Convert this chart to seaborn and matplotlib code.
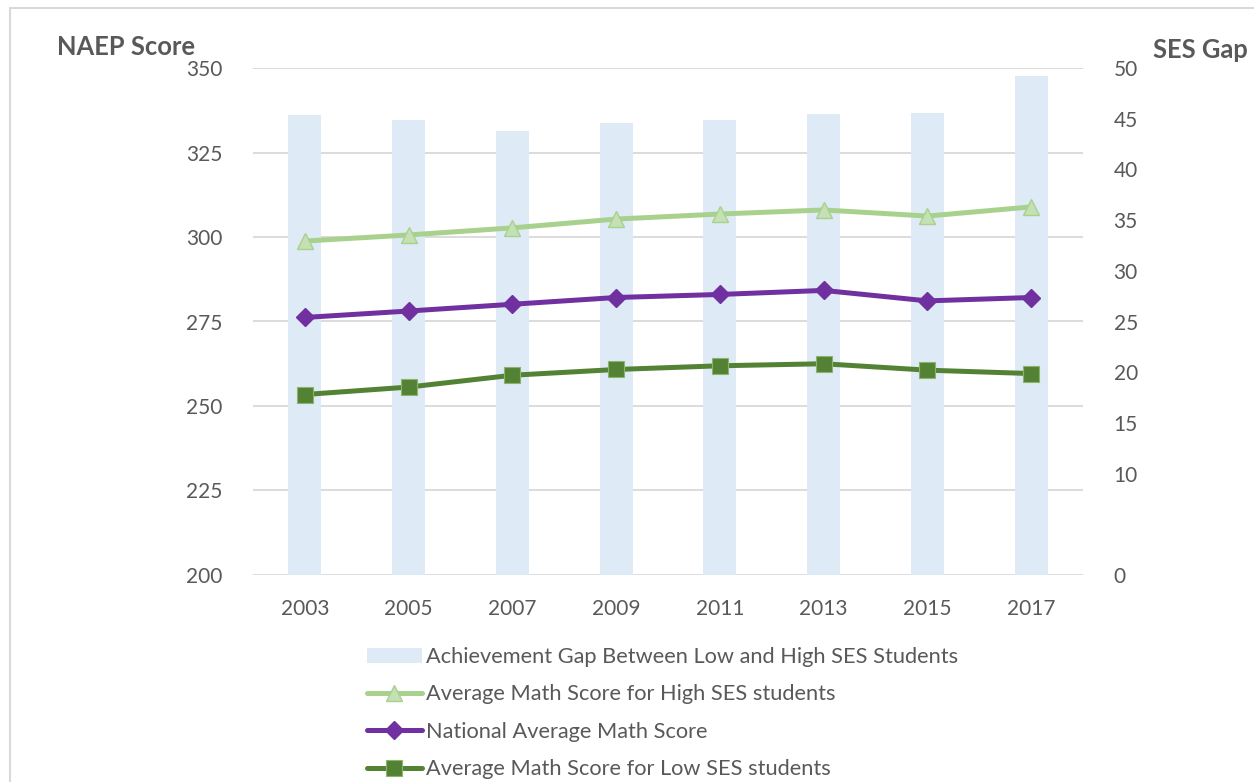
import numpy as np
import matplotlib
matplotlib.use("Agg")
import matplotlib.pyplot as plt
from matplotlib.patches import Rectangle, Patch
import seaborn as sns

years = ["2003", "2005", "2007", "2009", "2011", "2013", "2015", "2017"]
ses_gap = [45.4, 44.9, 43.8, 44.6, 44.9, 45.5, 45.6, 49.2]
high_ses = [298.8, 300.6, 302.7, 305.3, 306.8, 308.0, 306.2, 308.9]
national = [276.2, 278.1, 280.1, 282.1, 283.0, 284.2, 281.1, 282.1]
low_ses = [253.4, 255.6, 259.1, 260.8, 261.9, 262.5, 260.6, 259.6]

score_ticks = [200, 225, 250, 275, 300, 325, 350]
gap_ticks = [0, 10, 15, 20, 25, 30, 35, 40, 45, 50]

labels = ["Achievement Gap Between Low and High SES Students",
          "Average Math Score for High SES students",
          "National Average Math Score",
          "Average Math Score for Low SES students"]

sns.set_style("white")
plt.rcParams['font.family'] = ['Lato', 'DejaVu Sans']
TXT = "#595959"
GRID = "#d9d9d9"

fig = plt.figure(figsize=(12.54, 7.82), dpi=100)
fig.patches.append(Rectangle((10/1254, -0.05), 1.2, 1 - 8/782 + 0.05,
                             transform=fig.transFigure, fill=False,
                             edgecolor=GRID, linewidth=1.5))

ax = fig.add_axes([253/1254, 1 - 575/782, 830/1254, 507/782])
ax_bars = ax.twinx()
ax_lines = ax.twinx()

# bars (gap, right scale)
sns.barplot(x=years, y=ses_gap, ax=ax_bars, color="#deebf7", saturation=1,
            width=0.32, linewidth=0)
ax_bars.set_ylim(0, 50)
ax_bars.set_yticks(gap_ticks)
ax_bars.yaxis.tick_right()

pos = np.arange(len(years))
sns.lineplot(x=pos, y=high_ses, ax=ax_lines, color="#a9d18e", linewidth=3.6,
             marker="^", markersize=12, markerfacecolor="#c5e0b4",
             markeredgecolor="#a9d18e", markeredgewidth=1.0)
sns.lineplot(x=pos, y=national, ax=ax_lines, color="#7030a0", linewidth=3.6,
             marker="D", markersize=9.5, markerfacecolor="#7030a0",
             markeredgecolor="#7030a0", markeredgewidth=1.0)
sns.lineplot(x=pos, y=low_ses, ax=ax_lines, color="#548235", linewidth=3.6,
             marker="s", markersize=12, markerfacecolor="#548235",
             markeredgecolor="#8cb36a", markeredgewidth=0.8)
ax_lines.set_ylim(200, 350)
ax_lines.yaxis.set_visible(False)

ax.set_ylim(200, 350)
ax.set_yticks(score_ticks)
ax.grid(axis="y", color=GRID, linewidth=1.3)
ax.grid(axis="x", visible=False)
ax.set_xlim(-0.5, len(years) - 0.5)
ax.set_xticks(pos)
ax.set_xticklabels(years)

for a in (ax, ax_bars, ax_lines):
    for s in a.spines.values():
        s.set_visible(False)
    a.set_xlabel("")
    a.set_ylabel("")
    a.tick_params(length=0, labelsize=15, labelcolor=TXT)
    if a.get_legend() is not None:
        a.get_legend().remove()
ax_bars.set_xlim(-0.5, len(years) - 0.5)
ax.tick_params(axis="y", pad=22)
ax.tick_params(axis="x", pad=17)
ax_bars.tick_params(axis="y", pad=22)

fig.text(57/1254, 1 - 47/782, "NAEP Score", fontsize=18.4, fontweight="bold",
         color=TXT, ha="left", va="center")
fig.text(1153/1254, 1 - 50/782, "SES Gap", fontsize=18.4, fontweight="bold",
         color=TXT, ha="left", va="center")

handles = [Patch(facecolor="#deebf7", edgecolor="none")]
handles += list(ax_lines.get_lines())
fig.legend(handles, labels, loc="upper left",
           bbox_to_anchor=(367/1254, 1 - 647/782), frameon=False,
           fontsize=15.7, labelcolor=TXT, handlelength=2.5, handleheight=0.7,
           handletextpad=0.2, labelspacing=0.8, borderaxespad=0,
           borderpad=0)

fig.savefig("out.png", dpi=100)
